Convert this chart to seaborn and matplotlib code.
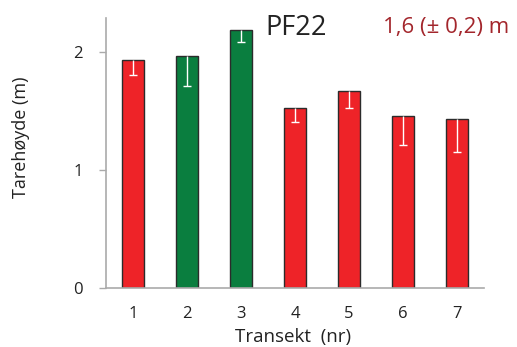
import matplotlib
matplotlib.use("Agg")
import matplotlib.pyplot as plt
import seaborn as sns
import numpy as np
import pandas as pd

# Kelp height per transect at PF22
transects = ["1", "2", "3", "4", "5", "6", "7"]
heights = [1.93, 1.97, 2.19, 1.53, 1.67, 1.455, 1.43]
errors_down = [0.125, 0.26, 0.10, 0.12, 0.14, 0.24, 0.28]
status = ["red", "green", "green", "red", "red", "red", "red"]

y_ticks = [0, 1, 2]
title = "PF22"
summary = "1,6 (± 0,2) m"

sns.set_theme(style="white")
plt.rcParams["font.family"] = ["Open Sans", "DejaVu Sans"]

palette = {"red": "#EE2328", "green": "#0A7E3F"}
df = pd.DataFrame({"Transekt": transects, "Høyde": heights, "status": status})

W, H = 517, 347
fig = plt.figure(figsize=(W / 100, H / 100), dpi=100)
ax = fig.add_axes([106 / W, 1 - 288 / H, 378 / W, 270 / H])

sns.barplot(data=df, x="Transekt", y="Høyde", hue="status", palette=palette,
            width=0.42, edgecolor="#2b2b2b", linewidth=1.0, legend=False,
            dodge=False, errorbar=None, ax=ax, saturation=1)

# one-sided (downward) white error bars inside the bars
xpos = np.arange(len(transects))
h = np.array(heights)
lo = h - np.array(errors_down)
ax.vlines(xpos, lo, h, colors="white", linewidth=1.0, zorder=5)
ax.hlines(lo, xpos - 0.075, xpos + 0.075, colors="white", linewidth=1.0, zorder=5)

ax.set_xlim(-0.5, len(transects) - 0.5)
ax.set_ylim(0, 2.29)
ax.set_yticks(y_ticks)
ax.set_yticklabels([str(t) for t in y_ticks])

# tick marks sit between the categories
ax.set_xticks(np.arange(-0.5, len(transects), 1.0), minor=True)
ax.tick_params(axis="x", which="major", length=0, pad=13, labelsize=12, labelcolor="#222222")
ax.tick_params(axis="x", which="minor", direction="inout", length=9, width=1, color="#aaaaaa")
ax.tick_params(axis="y", which="major", direction="out", length=5, width=1, color="#aaaaaa",
               left=True, labelsize=12, labelcolor="#222222", pad=11.5)

for side in ["top", "right"]:
    ax.spines[side].set_visible(False)
for side in ["left", "bottom"]:
    ax.spines[side].set_color("#aaaaaa")
    ax.spines[side].set_linewidth(1.2)

ax.set_xlabel("")
ax.set_ylabel("")
fig.text(293.5 / W, 1 - 342 / H, "Transekt  (nr)", fontsize=13.5, color="#222222",
         ha="center", va="baseline")
fig.text(21 / W, 1 - 137 / H, "Tarehøyde (m)", fontsize=13, color="#222222",
         ha="center", va="center", rotation=90)

fig.text(265 / W, 1 - 35 / H, title, fontsize=19.5, color="#222222", ha="left", va="baseline")
fig.text(383 / W, 1 - 32.7 / H, summary, fontsize=16, color="#A3262C", ha="left", va="baseline")

fig.savefig("out.png", dpi=100)
